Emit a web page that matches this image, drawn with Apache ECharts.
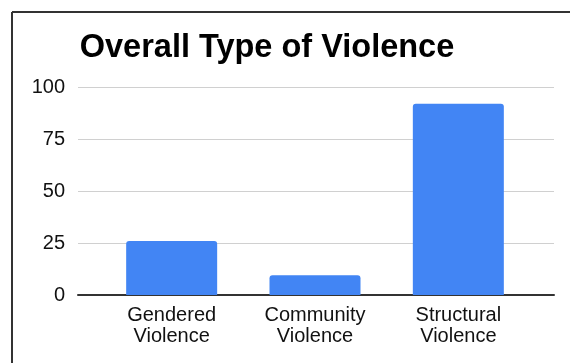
<!DOCTYPE html>
<html><head><meta charset="utf-8">
<script src="https://cdn.jsdelivr.net/npm/echarts@6/dist/echarts.min.js"></script>
<style>html,body{margin:0;padding:0;background:#fff}#c{width:570px;height:363px}</style>
</head><body><div id="c"></div>
<script>
const titleText = 'Overall Type of Violence';
const categories = ['Gendered\nViolence', 'Community\nViolence', 'Structural\nViolence'];
const values = [26, 9.5, 92];
const yMin = 0, yMax = 100, yStep = 25;

const chart = echarts.init(document.getElementById('c'));
const font = 'Liberation Sans, Arial, sans-serif';
chart.setOption({
  animation: false,
  title: { text: titleText, left: 262, textAlign: 'center', top: 27,
    textStyle: { fontFamily: font, fontSize: 32.5, fontWeight: 'bold', color: '#000' } },
  graphic: [
    { type: 'line', shape: { x1: 12, y1: 12, x2: 570, y2: 12 }, style: { stroke: '#333', lineWidth: 2 } },
    { type: 'line', shape: { x1: 12, y1: 12, x2: 12, y2: 363 }, style: { stroke: '#333', lineWidth: 2 } }
  ],
  grid: [
    { left: 78, right: 16, top: 87, bottom: 68 },
    { left: 100, right: 40, top: 87, bottom: 68 }
  ],
  xAxis: [
    { type: 'value', gridIndex: 0, min: 0, max: 1, axisLabel: { show: false }, splitLine: { show: false },
      axisTick: { show: false }, axisLine: { show: true, onZero: false, lineStyle: { color: '#333', width: 2 } } },
    { type: 'category', gridIndex: 1, data: categories, axisTick: { show: false },
      axisLine: { show: false },
      axisLabel: { fontFamily: font, fontSize: 20, color: '#111', lineHeight: 21, margin: 10 } }
  ],
  yAxis: [
    { type: 'value', gridIndex: 0, min: yMin, max: yMax, interval: yStep,
      axisLine: { show: false }, axisTick: { show: false },
      axisLabel: { fontFamily: font, fontSize: 20, color: '#111', margin: 13 },
      splitLine: { lineStyle: { color: '#d0d0d0', width: 1 } } },
    { type: 'value', gridIndex: 1, min: yMin, max: yMax, interval: yStep, show: false }
  ],
  series: [{ type: 'bar', xAxisIndex: 1, yAxisIndex: 1, data: values, barWidth: 91,
    itemStyle: { color: '#4285f4', borderRadius: [3, 3, 0, 0] } }]
});
</script></body></html>
